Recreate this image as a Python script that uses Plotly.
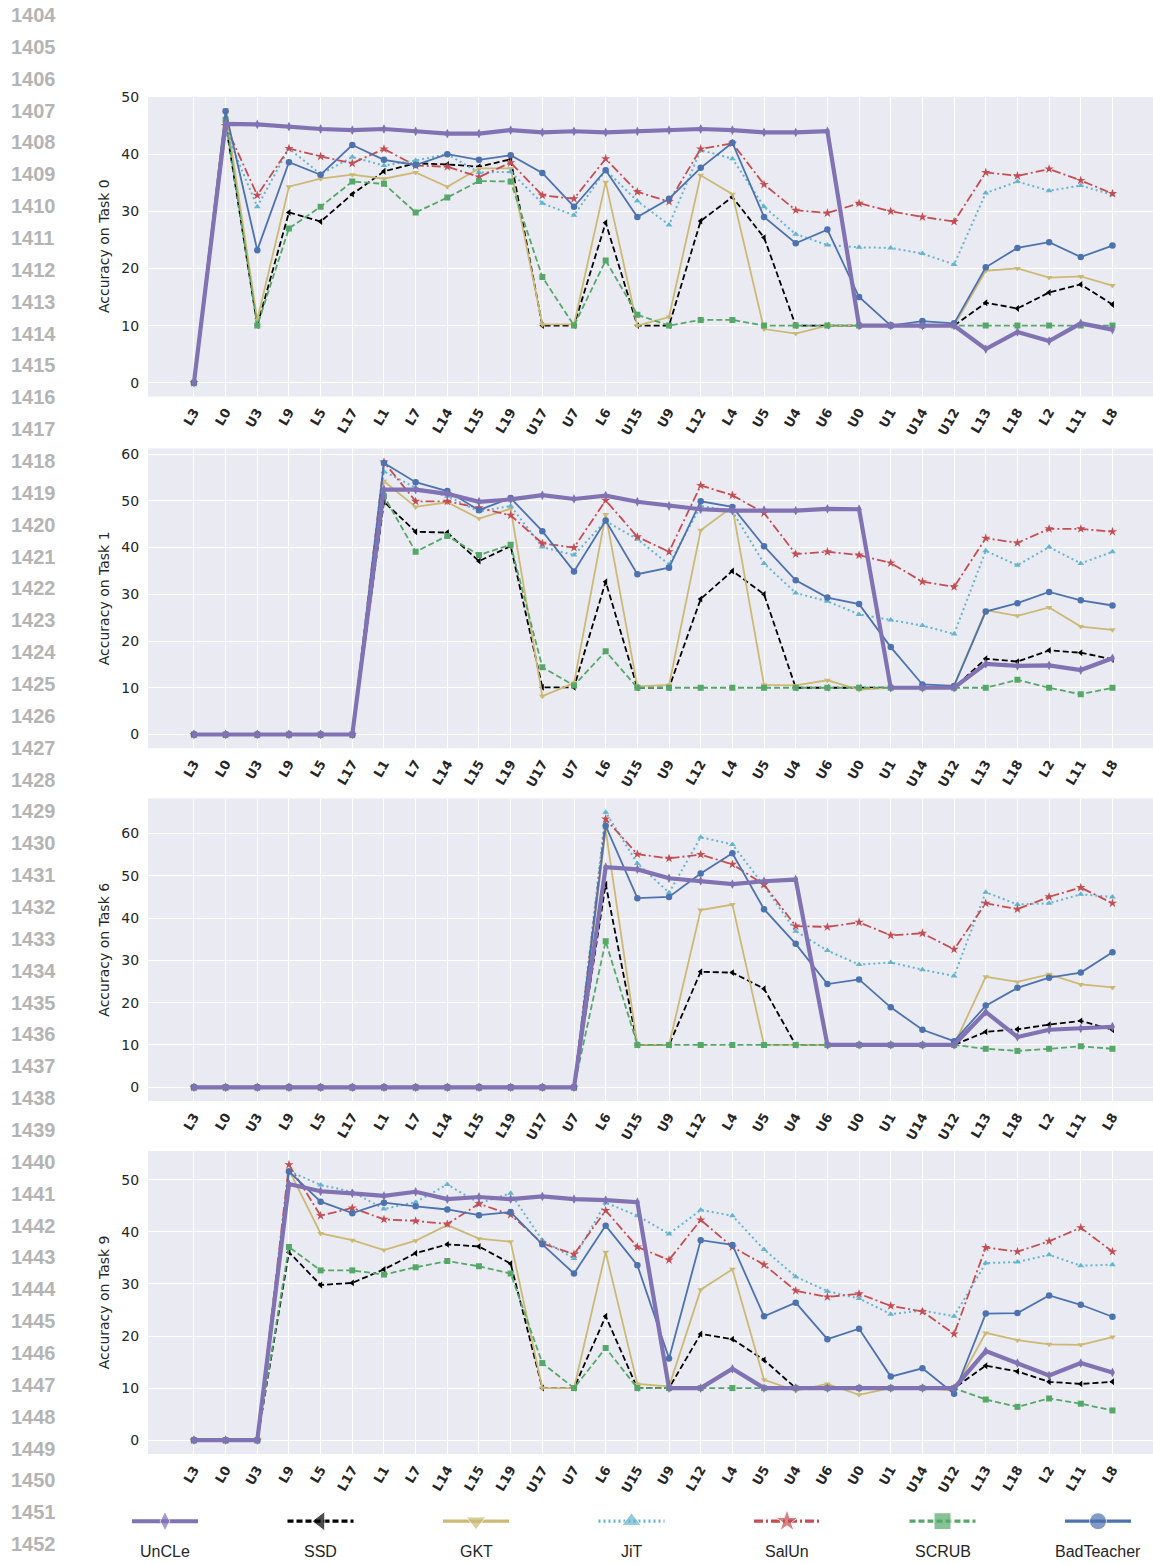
import plotly.graph_objects as go

# Order in which the layers/tasks are learned (L) or unlearned (U)
steps = ["L3", "L0", "U3", "L9", "L5", "L17", "L1", "L7", "L14", "L15", "L19", "U17", "U7", "L6",
         "U15", "U9", "L12", "L4", "U5", "U4", "U6", "U0", "U1", "U14", "U12", "L13", "L18", "L2",
         "L11", "L8"]

methods = ["UnCLe", "SSD", "GKT", "JiT", "SalUn", "SCRUB", "BadTeacher"]
task_labels = ["Accuracy on Task 0", "Accuracy on Task 1", "Accuracy on Task 6", "Accuracy on Task 9"]

# ---- Task 0 accuracy per method ----
t0_uncle = [0, 45.3, 45.2, 44.8, 44.4, 44.2, 44.4, 44.0, 43.6, 43.6, 44.2, 43.8, 44.0, 43.8, 44.0,
            44.2, 44.4, 44.2, 43.8, 43.8, 44.0, 10, 10, 10, 10, 5.9, 8.9, 7.3, 10.4, 9.3]
t0_ssd = [0, 45.5, 10.0, 29.8, 28.2, 33.0, 37.0, 38.4, 38.2, 37.8, 39.1, 10, 10, 28.0, 10,
          10, 28.3, 32.5, 25.4, 10, 10, 10, 10, 10, 10, 14.0, 13.0, 15.8, 17.2, 13.7]
t0_gkt = [0, 47.8, 11.0, 34.3, 35.7, 36.4, 35.7, 36.8, 34.3, 37.5, 37.5, 10.2, 10.2, 35.1, 10,
          11.5, 36.3, 33.0, 9.4, 8.6, 10, 10, 10, 10, 10, 19.6, 20.0, 18.4, 18.6, 17.0]
t0_jit = [0, 44.0, 30.8, 41.0, 36.5, 39.5, 38.0, 38.9, 40.0, 36.8, 36.9, 31.4, 29.3, 37.2, 31.8,
          27.6, 40.7, 39.2, 30.8, 26.0, 24.1, 23.7, 23.6, 22.6, 20.7, 33.2, 35.2, 33.6, 34.5, 32.9]
t0_salun = [0, 45.0, 32.8, 41.0, 39.6, 38.4, 40.9, 38.0, 37.8, 36.0, 38.5, 32.8, 32.2, 39.2, 33.4,
            31.7, 40.9, 41.9, 34.7, 30.2, 29.7, 31.4, 30.0, 29.0, 28.2, 36.8, 36.2, 37.4, 35.4, 33.1]
t0_scrub = [0, 46.0, 10, 27.0, 30.8, 35.2, 34.8, 29.8, 32.4, 35.3, 35.2, 18.5, 10, 21.4, 11.9,
            10, 11.0, 11.0, 10, 10, 10, 10, 10, 10, 10, 10, 10, 10, 10, 10]
t0_badteacher = [0, 47.5, 23.2, 38.6, 36.4, 41.6, 39.0, 38.1, 40.0, 39.0, 39.8, 36.7, 30.8, 37.2, 29.0,
                 32.2, 37.6, 42.0, 29.0, 24.4, 26.8, 15.0, 10, 10.8, 10.4, 20.2, 23.6, 24.6, 22.0, 24.0]

# ---- Task 1 accuracy per method ----
t1_uncle = [0, 0, 0, 0, 0, 0, 52.4, 52.4, 51.5, 49.8, 50.3, 51.2, 50.4, 51.1, 49.8,
            48.9, 48.2, 47.9, 48.0, 47.9, 48.3, 48.2, 10, 10, 10, 15.1, 14.7, 14.8, 13.8, 16.3]
t1_ssd = [0, 0, 0, 0, 0, 0, 49.8, 43.4, 43.2, 37.1, 40.3, 10.1, 10.1, 32.7, 10,
          10, 29.0, 35.0, 30.0, 10, 10, 10, 10, 10, 10, 16.2, 15.6, 18.0, 17.5, 16.1]
t1_gkt = [0, 0, 0, 0, 0, 0, 54.2, 48.7, 49.7, 46.2, 48.3, 8.2, 11.0, 47.1, 10.3,
          10.6, 43.7, 48.7, 10.6, 10.5, 11.6, 9.6, 10, 10, 10.5, 26.6, 25.4, 27.2, 23.1, 22.4]
t1_jit = [0, 0, 0, 0, 0, 0, 56.3, 52.8, 51.0, 47.7, 48.9, 40.1, 38.4, 45.7, 41.8,
          36.4, 48.9, 47.8, 36.6, 30.3, 28.5, 25.7, 24.5, 23.3, 21.5, 39.3, 36.2, 40.1, 36.6, 39.1]
t1_salun = [0, 0, 0, 0, 0, 0, 58.3, 49.9, 49.9, 48.5, 46.9, 40.9, 40.0, 50.1, 42.3,
            39.1, 53.3, 51.2, 47.4, 38.6, 39.1, 38.4, 36.7, 32.7, 31.6, 42.0, 41.0, 44.0, 44.0, 43.4]
t1_scrub = [0, 0, 0, 0, 0, 0, 51.0, 39.1, 42.5, 38.4, 40.6, 14.4, 10.5, 17.8, 10,
            10, 10, 10, 10, 10, 10, 10, 10, 10, 10, 10, 11.7, 10, 8.6, 10]
t1_badteacher = [0, 0, 0, 0, 0, 0, 58.1, 54.0, 52.1, 48.0, 50.6, 43.5, 34.9, 45.8, 34.3,
                 35.7, 49.9, 48.7, 40.3, 33.0, 29.3, 27.9, 18.7, 10.7, 10.4, 26.3, 28.1, 30.5, 28.7, 27.6]

# ---- Task 6 accuracy per method ----
t6_uncle = [0, 0, 0, 0, 0, 0, 0, 0, 0, 0, 0, 0, 0, 52.0, 51.5,
            49.4, 48.8, 48.0, 48.7, 49.1, 10, 10, 10, 10, 10, 17.8, 11.9, 13.6, 13.9, 14.3]
t6_ssd = [0, 0, 0, 0, 0, 0, 0, 0, 0, 0, 0, 0, 0, 48.0, 10,
          10, 27.3, 27.1, 23.3, 10, 10, 10, 10, 10, 10, 13.1, 13.7, 14.8, 15.7, 13.6]
t6_gkt = [0, 0, 0, 0, 0, 0, 0, 0, 0, 0, 0, 0, 0, 60.8, 10,
          10, 41.9, 43.2, 10, 10, 10, 10, 10, 10, 10, 26.1, 24.9, 26.7, 24.3, 23.6]
t6_jit = [0, 0, 0, 0, 0, 0, 0, 0, 0, 0, 0, 0, 0, 65.0, 52.9,
          46.0, 59.1, 57.4, 47.6, 36.9, 32.3, 29.0, 29.5, 27.8, 26.3, 46.1, 43.2, 43.5, 45.6, 45.0]
t6_salun = [0, 0, 0, 0, 0, 0, 0, 0, 0, 0, 0, 0, 0, 63.4, 55.1,
            54.1, 55.0, 52.7, 47.9, 38.1, 37.9, 39.0, 35.9, 36.4, 32.6, 43.5, 42.1, 45.0, 47.2, 43.5]
t6_scrub = [0, 0, 0, 0, 0, 0, 0, 0, 0, 0, 0, 0, 0, 34.5, 10,
            10, 10, 10, 10, 10, 10, 10, 10, 10, 10, 9.1, 8.6, 9.1, 9.7, 9.1]
t6_badteacher = [0, 0, 0, 0, 0, 0, 0, 0, 0, 0, 0, 0, 0, 61.8, 44.7,
                 45.0, 50.5, 55.3, 42.1, 33.9, 24.4, 25.5, 18.9, 13.6, 10.9, 19.3, 23.5, 25.9, 27.1, 31.9]

# ---- Task 9 accuracy per method ----
t9_uncle = [0, 0, 0, 49.2, 47.8, 47.4, 46.9, 47.7, 46.3, 46.7, 46.3, 46.8, 46.3, 46.1, 45.7,
            10, 10, 13.7, 10, 10, 10, 10, 10, 10, 10, 17.1, 14.8, 12.4, 14.8, 13.0]
t9_ssd = [0, 0, 0, 36.1, 29.8, 30.2, 32.8, 35.9, 37.6, 37.2, 33.9, 10, 10, 23.8, 10,
          10, 20.4, 19.4, 15.4, 10, 10, 10, 10, 10, 10, 14.3, 13.2, 11.2, 10.8, 11.2]
t9_gkt = [0, 0, 0, 51.9, 39.7, 38.4, 36.5, 38.3, 41.3, 38.7, 38.1, 10, 10, 36.1, 10.8,
          10.3, 28.9, 32.8, 11.6, 9.5, 10.8, 8.7, 10, 10, 9.5, 20.6, 19.2, 18.4, 18.3, 19.8]
t9_jit = [0, 0, 0, 51.7, 49.0, 47.7, 44.4, 45.7, 49.1, 45.5, 47.4, 38.4, 34.9, 45.6, 43.1,
          39.6, 44.2, 43.1, 36.6, 31.4, 28.6, 27.2, 24.2, 24.9, 23.8, 34.0, 34.2, 35.6, 33.5, 33.7]
t9_salun = [0, 0, 0, 52.9, 43.1, 44.6, 42.4, 42.1, 41.5, 45.4, 43.3, 37.8, 35.7, 44.1, 37.1,
            34.6, 42.3, 37.1, 33.7, 28.7, 27.5, 28.1, 25.8, 24.7, 20.4, 37.0, 36.2, 38.2, 40.8, 36.2]
t9_scrub = [0, 0, 0, 37.1, 32.6, 32.6, 31.8, 33.2, 34.4, 33.4, 32.0, 14.8, 10, 17.7, 10,
            10, 10, 10, 10, 10, 10, 10, 10, 10, 10, 7.8, 6.4, 8.0, 7.0, 5.7]
t9_badteacher = [0, 0, 0, 51.6, 45.8, 43.6, 45.6, 44.9, 44.3, 43.2, 43.8, 37.6, 32.0, 41.2, 33.6,
                 15.7, 38.4, 37.5, 23.8, 26.4, 19.4, 21.4, 12.2, 13.8, 8.9, 24.3, 24.4, 27.8, 26.0, 23.7]

panels = [
    [t0_uncle, t0_ssd, t0_gkt, t0_jit, t0_salun, t0_scrub, t0_badteacher],
    [t1_uncle, t1_ssd, t1_gkt, t1_jit, t1_salun, t1_scrub, t1_badteacher],
    [t6_uncle, t6_ssd, t6_gkt, t6_jit, t6_salun, t6_scrub, t6_badteacher],
    [t9_uncle, t9_ssd, t9_gkt, t9_jit, t9_salun, t9_scrub, t9_badteacher],
]

# Per-method styles (seaborn "deep" palette, matplotlib-like dash patterns)
style = {
    "UnCLe":      dict(color="#8172B3", dash="solid",                width=4.2, symbol="diamond-tall", size=7),
    "SSD":        dict(color="#000000", dash="6px,3px",              width=1.8, symbol="triangle-left", size=6),
    "GKT":        dict(color="#CCB974", dash="solid",                width=1.8, symbol="triangle-down", size=6),
    "JiT":        dict(color="#64B5CD", dash="2px,3px",              width=2.0, symbol="triangle-up", size=6),
    "SalUn":      dict(color="#C44E52", dash="9px,3px,2px,3px",      width=1.8, symbol="star", size=7),
    "SCRUB":      dict(color="#55A868", dash="6px,3px",              width=1.8, symbol="square", size=6),
    "BadTeacher": dict(color="#4C72B0", dash="solid",                width=1.8, symbol="circle", size=6.5),
}

W, H = 1153, 1564
BG = "#EAEAF2"
TXT = "#262626"


def ypaper(px):
    """Vertical pixel position (from the top) to paper coordinates."""
    target = 14 + (px - 20) / 0.99608
    return 1 - target / H


# Pixel extents of the four panels (top, bottom) and their y ranges
panel_px = [(95.0, 395.7), (447.8, 747.6), (798.0, 1100.7), (1150.6, 1453.8)]
y_ranges = [[-2.39, 50.19], [-2.92, 61.2], [-3.25, 68.25], [-2.65, 55.55]]
x_left_px = 148.0
x_range = [-1.45, 30.28]

fig = go.Figure()
draw_order = ["SSD", "GKT", "JiT", "SalUn", "SCRUB", "BadTeacher", "UnCLe"]

layout = dict(
    width=W, height=H, margin=dict(l=0, r=0, t=0, b=0),
    paper_bgcolor="white", plot_bgcolor="rgba(0,0,0,0)", showlegend=False,
    font=dict(family="DejaVu Sans", color=TXT),
)
shapes = []
annotations = []

for p, series in enumerate(panels):
    k = p + 1
    xa = "x" if k == 1 else f"x{k}"
    ya = "y" if k == 1 else f"y{k}"
    for name in draw_order:
        s = style[name]
        vals = series[methods.index(name)]
        fig.add_trace(go.Scatter(
            x=steps, y=vals, mode="lines+markers", name=name, xaxis=xa, yaxis=ya,
            line=dict(color=s["color"], dash=s["dash"], width=s["width"]),
            marker=dict(symbol=s["symbol"], size=s["size"], color=s["color"]),
            showlegend=False,
        ))
    top, bot = panel_px[p]
    layout[f"xaxis{'' if k == 1 else k}"] = dict(
        domain=[x_left_px / W, 1.0], anchor=ya, type="category",
        categoryorder="array", categoryarray=steps, range=x_range,
        showgrid=True, gridcolor="white", gridwidth=1, zeroline=False, showline=False,
        tickangle=-60, ticks="outside", ticklen=2, tickcolor="rgba(0,0,0,0)",
        tickfont=dict(family="DejaVu Sans", size=13, color=TXT, weight="bold"),
    )
    layout[f"yaxis{'' if k == 1 else k}"] = dict(
        domain=[ypaper(bot), ypaper(top)], anchor=xa, range=y_ranges[p],
        dtick=10, tick0=0, showgrid=True, gridcolor="white", gridwidth=1.2,
        zeroline=False, showline=False,
        ticks="outside", ticklen=5, tickcolor="rgba(0,0,0,0)",
        tickfont=dict(family="DejaVu Sans", size=14, color=TXT),
        title=dict(text=task_labels[p], font=dict(family="DejaVu Sans", size=14, color=TXT), standoff=8),
    )
    shapes.append(dict(type="rect", xref=f"{xa} domain", yref=f"{ya} domain",
                       x0=0, x1=1, y0=0, y1=1, fillcolor=BG, line=dict(width=0), layer="below"))

# ---- legend row drawn on its own hidden axis (pixel units) ----
leg_centers = [165 + 155.5 * i for i in range(len(methods))]
leg_half = 33
leg_y = 1564 - 1521
for name, cx in zip(methods, leg_centers):
    s = style[name]
    fig.add_trace(go.Scatter(
        x=[cx - leg_half, cx, cx + leg_half], y=[leg_y, leg_y, leg_y],
        mode="lines+markers", xaxis="x5", yaxis="y5", showlegend=False, hoverinfo="skip",
        line=dict(color=s["color"], dash=s["dash"], width=3.2 if name != "UnCLe" else 4),
        marker=dict(symbol=s["symbol"], size=[0, 17 if name != "UnCLe" else 14, 0],
                    color=s["color"]),
    ))
    annotations.append(dict(x=cx, y=1564 - 1551, xref="x5", yref="y5", text=name,
                            showarrow=False, xanchor="center", yanchor="middle",
                            font=dict(family="Liberation Sans", size=16, color=TXT)))

layout["xaxis5"] = dict(domain=[0, 1], range=[0, W], anchor="y5", visible=False, fixedrange=True)
layout["yaxis5"] = dict(domain=[0, 69 / H], range=[0, 69], anchor="x5", visible=False, fixedrange=True)

# ---- page line numbers along the left margin ----
for i, num in enumerate(range(1404, 1453)):
    ypx = 14 + 31.875 * i
    annotations.append(dict(x=9 / W, y=ypaper(ypx), xref="paper", yref="paper", text=str(num),
                            showarrow=False, xanchor="left", yanchor="middle",
                            font=dict(family="Liberation Sans", size=20, color="#b4b4b4", weight="bold")))

layout["shapes"] = shapes
layout["annotations"] = annotations
fig.update_layout(**layout)

fig.write_html("out.html")
